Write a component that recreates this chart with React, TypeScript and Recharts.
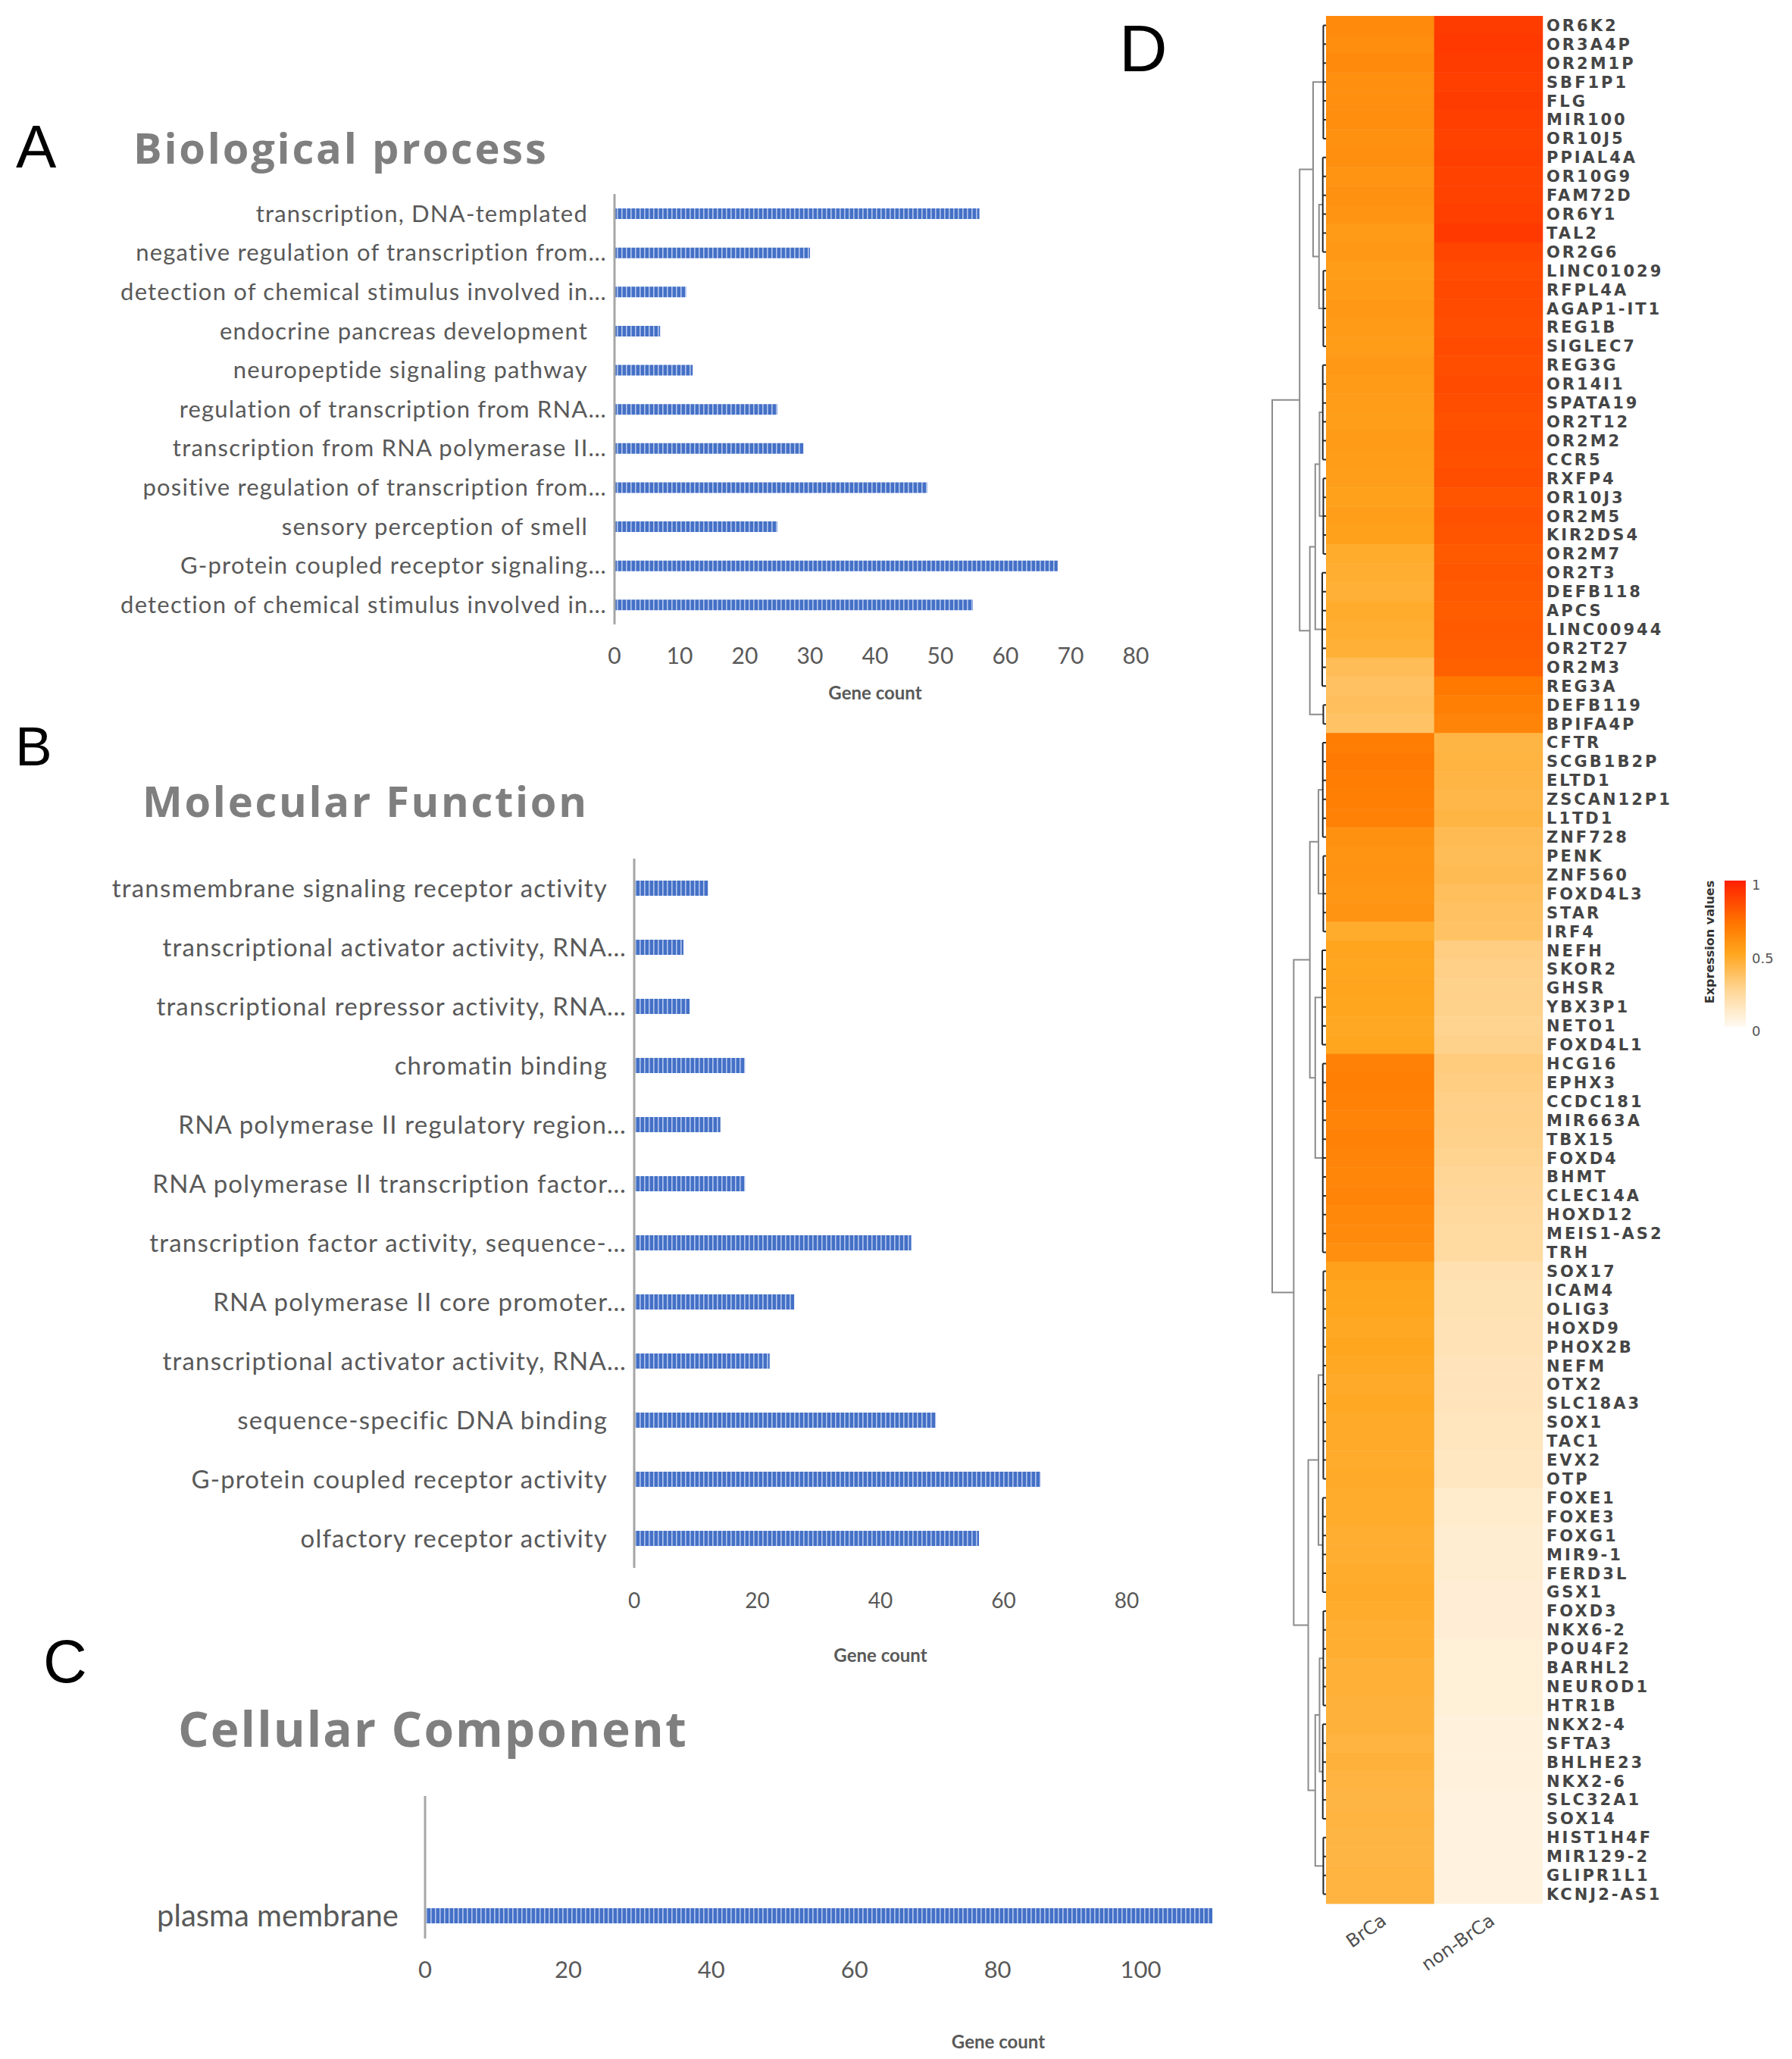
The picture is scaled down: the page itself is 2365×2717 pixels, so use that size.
import React from "react";
import { BarChart, Bar, XAxis, YAxis, Cell, LineChart, Line } from "recharts";

// ---- GO enrichment data (gene counts) ----
const bpTerms = [
  "transcription, DNA-templated",
  "negative regulation of transcription from…",
  "detection of chemical stimulus involved in…",
  "endocrine pancreas development",
  "neuropeptide signaling pathway",
  "regulation of transcription from RNA…",
  "transcription from RNA polymerase II…",
  "positive regulation of transcription from…",
  "sensory perception of smell",
  "G-protein coupled receptor signaling…",
  "detection of chemical stimulus involved in…",
];
const bpCounts = [56, 30, 11, 7, 12, 25, 29, 48, 25, 68, 55];
const bpTicks = [0, 10, 20, 30, 40, 50, 60, 70, 80];

const mfTerms = [
  "transmembrane signaling receptor activity",
  "transcriptional activator activity, RNA…",
  "transcriptional repressor activity, RNA…",
  "chromatin binding",
  "RNA polymerase II regulatory region…",
  "RNA polymerase II transcription factor…",
  "transcription factor activity, sequence-…",
  "RNA polymerase II core promoter…",
  "transcriptional activator activity, RNA…",
  "sequence-specific DNA binding",
  "G-protein coupled receptor activity",
  "olfactory receptor activity",
];
const mfCounts = [12, 8, 9, 18, 14, 18, 45, 26, 22, 49, 66, 56];
const mfTicks = [0, 20, 40, 60, 80];

const ccTerms = ["plasma membrane"];
const ccCounts = [110];
const ccTicks = [0, 20, 40, 60, 80, 100];

// ---- heatmap data ----
const sampleGroups = ["BrCa", "non-BrCa"];
const genes = [
  "OR6K2", "OR3A4P", "OR2M1P", "SBF1P1", "FLG", "MIR100", "OR10J5", "PPIAL4A", "OR10G9", "FAM72D",
  "OR6Y1", "TAL2", "OR2G6", "LINC01029", "RFPL4A", "AGAP1-IT1", "REG1B", "SIGLEC7", "REG3G", "OR14I1",
  "SPATA19", "OR2T12", "OR2M2", "CCR5", "RXFP4", "OR10J3", "OR2M5", "KIR2DS4", "OR2M7", "OR2T3",
  "DEFB118", "APCS", "LINC00944", "OR2T27", "OR2M3", "REG3A", "DEFB119", "BPIFA4P", "CFTR", "SCGB1B2P",
  "ELTD1", "ZSCAN12P1", "L1TD1", "ZNF728", "PENK", "ZNF560", "FOXD4L3", "STAR", "IRF4", "NEFH",
  "SKOR2", "GHSR", "YBX3P1", "NETO1", "FOXD4L1", "HCG16", "EPHX3", "CCDC181", "MIR663A", "TBX15",
  "FOXD4", "BHMT", "CLEC14A", "HOXD12", "MEIS1-AS2", "TRH", "SOX17", "ICAM4", "OLIG3", "HOXD9",
  "PHOX2B", "NEFM", "OTX2", "SLC18A3", "SOX1", "TAC1", "EVX2", "OTP", "FOXE1", "FOXE3",
  "FOXG1", "MIR9-1", "FERD3L", "GSX1", "FOXD3", "NKX6-2", "POU4F2", "BARHL2", "NEUROD1", "HTR1B",
  "NKX2-4", "SFTA3", "BHLHE23", "NKX2-6", "SLC32A1", "SOX14", "HIST1H4F", "MIR129-2", "GLIPR1L1", "KCNJ2-AS1",
];
const brcaExpr = [
  0.62, 0.61, 0.62, 0.6, 0.6, 0.61, 0.59, 0.6, 0.58, 0.59, 0.58,
  0.55, 0.56, 0.54, 0.55, 0.56, 0.55, 0.54, 0.56, 0.55, 0.54, 0.53, 0.55, 0.54, 0.53, 0.52, 0.53, 0.52,
  0.47, 0.46, 0.45, 0.47, 0.46, 0.45,
  0.38, 0.36, 0.37, 0.35,
  0.68, 0.69, 0.68, 0.67, 0.66,
  0.59, 0.58, 0.58, 0.57, 0.58,
  0.47,
  0.51, 0.5, 0.51, 0.5, 0.49, 0.5,
  0.66, 0.67, 0.66, 0.65, 0.66, 0.65, 0.64, 0.65, 0.63, 0.62, 0.6,
  0.52, 0.51, 0.5, 0.49, 0.5, 0.49, 0.48, 0.49, 0.48, 0.48, 0.47, 0.48,
  0.47, 0.47, 0.46, 0.46, 0.47, 0.48, 0.47, 0.46, 0.46, 0.45, 0.45, 0.44, 0.44, 0.43, 0.44, 0.43, 0.42, 0.43, 0.42, 0.42, 0.43, 0.43,
];
const nonBrcaExpr = [
  0.9, 0.91, 0.9, 0.89, 0.9, 0.89, 0.88, 0.89, 0.88, 0.88, 0.89, 0.91, 0.87,
  0.85, 0.86, 0.85, 0.84, 0.85, 0.84, 0.85, 0.84, 0.83, 0.84, 0.83, 0.84, 0.82, 0.83, 0.82,
  0.8, 0.81, 0.8, 0.79, 0.8, 0.79, 0.78,
  0.7, 0.67, 0.65,
  0.42, 0.43, 0.42, 0.41, 0.42,
  0.39, 0.38, 0.39, 0.37, 0.36,
  0.35,
  0.29, 0.28, 0.27, 0.27, 0.26, 0.27,
  0.3, 0.29, 0.28, 0.28, 0.27, 0.26, 0.25, 0.24, 0.23, 0.22, 0.22,
  0.18, 0.17, 0.17, 0.16, 0.16, 0.15, 0.15, 0.15, 0.14, 0.14, 0.13, 0.13,
  0.1, 0.1, 0.09, 0.09, 0.09, 0.08, 0.08, 0.08, 0.07, 0.07, 0.07, 0.07, 0.06, 0.06, 0.06, 0.06, 0.05, 0.05, 0.05, 0.05, 0.05, 0.05,
];
const legendTicks = [1, 0.5, 0];

// row clusters [firstRow, lastRow, height] and merges [nodeA, nodeB, height]
const dendroBlocks = [
  [0, 6, 0.05], [7, 12, 0.06], [13, 17, 0.05], [18, 23, 0.06], [24, 28, 0.05], [29, 35, 0.07],
  [36, 37, 0.05], [38, 43, 0.06], [44, 48, 0.05], [49, 54, 0.07], [55, 65, 0.06], [66, 77, 0.05],
  [78, 83, 0.06], [84, 89, 0.05], [90, 95, 0.06], [96, 99, 0.05],
];
const dendroMerges = [
  [1, 2, 0.13], [0, 16, 0.24], [3, 4, 0.12], [18, 5, 0.2], [19, 6, 0.3], [17, 20, 0.49],
  [7, 8, 0.14], [9, 10, 0.2], [22, 23, 0.3], [11, 12, 0.14], [13, 14, 0.12], [26, 15, 0.2],
  [25, 27, 0.33], [24, 28, 0.6], [21, 29, 1.0],
];

const FONT = "Lato, 'Liberation Sans', sans-serif";
const GENE_FONT = "'DejaVu Sans', Verdana, sans-serif";
const heatStops: [number, number[]][] = [
  [0, [255, 250, 242]],
  [0.25, [255, 214, 150]],
  [0.5, [255, 166, 30]],
  [0.7, [255, 120, 0]],
  [1, [255, 30, 0]],
];

function heatColor(v: number) {
  for (let i = 1; i < heatStops.length; i++) {
    const [o1, c1] = heatStops[i];
    const [o0, c0] = heatStops[i - 1];
    if (v <= o1) {
      const t = (v - o0) / (o1 - o0);
      const c = c0.map((x, k) => Math.round(x + (c1[k] - x) * t));
      return `rgb(${c[0]},${c[1]},${c[2]})`;
    }
  }
  const c = heatStops[heatStops.length - 1][1];
  return `rgb(${c[0]},${c[1]},${c[2]})`;
}

function buildDendrogram() {
  const nodes: { y: number; h: number }[] = [];
  const leaf: any[] = [];
  const tree: any[] = [];
  dendroBlocks.forEach(([s, e, hb]) => {
    for (let r = s; r <= e; r++) {
      leaf.push({ h: 0, r: r + 0.5 }, { h: hb, r: r + 0.5 }, { h: hb, r: null });
    }
    leaf.push({ h: hb, r: s + 0.5 }, { h: hb, r: e + 0.5 }, { h: hb, r: null });
    nodes.push({ y: (s + e + 1) / 2, h: hb });
  });
  dendroMerges.forEach(([a, b, hm]) => {
    const A = nodes[a];
    const B = nodes[b];
    tree.push({ h: A.h, r: A.y }, { h: hm, r: A.y }, { h: hm, r: B.y }, { h: B.h, r: B.y }, { h: hm, r: null });
    nodes.push({ y: (A.y + B.y) / 2, h: hm });
  });
  return { leaf, tree };
}

const TermTick = (props: any) => {
  const { x, y, payload, fontSize, spacing } = props;
  const label = String(payload.value);
  const gap = label.endsWith("…") ? 10 : 35;
  return (
    <text x={x - gap} y={y} dy="0.35em" textAnchor="end" fontSize={fontSize} fill="#595959"
      fontFamily={FONT} letterSpacing={spacing}>
      {label}
    </text>
  );
};

function GoBars(p: any) {
  const data = p.terms.map((name: string, i: number) => ({ name, count: p.counts[i] }));
  return (
    <div style={{ position: "absolute", left: 0, top: p.top }}>
      <BarChart width={p.width} height={p.height} data={data} layout="vertical"
        margin={{ top: 0, right: 31, bottom: 0, left: 0 }}>
        <defs>
          <pattern id={p.id} width={6} height={8} patternUnits="userSpaceOnUse">
            <rect width={6} height={8} fill="#4470c6" />
            <rect x={4} width={1.6} height={8} fill="#b3c6ec" />
          </pattern>
        </defs>
        <XAxis type="number" domain={[0, p.max]} ticks={p.ticks} allowDataOverflow axisLine={false}
          tickLine={false} tickSize={0} tickMargin={p.tickGap} height={p.xHeight} interval={0}
          tick={{ fontSize: p.tickFont, fill: "#595959", fontFamily: FONT }}
          label={{ value: "Gene count", position: "insideBottom", offset: p.titleOffset, dx: p.titleDx,
            fontSize: 24, fontWeight: 700, fill: "#595959", fontFamily: FONT }} />
        <YAxis type="category" dataKey="name" width={p.yWidth} interval={0} tickSize={0} tickMargin={0}
          tickLine={false} axisLine={{ stroke: "#a6a6a6", strokeWidth: 3 }} padding={{ top: p.padTop || 0, bottom: 0 }}
          tick={(t: any) => <TermTick {...t} fontSize={p.labelFont} spacing={p.labelSpacing} />} />
        <Bar dataKey="count" fill={`url(#${p.id})`} barSize={p.barSize} isAnimationActive={false} />
      </BarChart>
    </div>
  );
}

function Heatmap() {
  const rows = genes.map((gene, i) => ({ gene, brca: brcaExpr[i], non: nonBrcaExpr[i] }));
  return (
    <div style={{ position: "absolute", left: 1750, top: 21 }}>
      <BarChart width={615} height={2641} data={rows} layout="vertical" barCategoryGap={0}
        margin={{ top: 0, right: 0, bottom: 0, left: 0 }}>
        <XAxis type="number" domain={[0, 2]} ticks={[0.5, 1.5]} interval={0}
          tickFormatter={(v: number) => sampleGroups[Math.floor(v)]} axisLine={false} tickLine={false}
          tickSize={0} tickMargin={12} height={150}
          tick={{ fontSize: 24, fill: "#4d4d4d", fontFamily: GENE_FONT, angle: -35, textAnchor: "end" }} />
        <YAxis type="category" dataKey="gene" orientation="right" width={329} interval={0} tickSize={0}
          tickMargin={5} axisLine={false} tickLine={false}
          tick={{ fontSize: 21, fill: "#454545", fontFamily: GENE_FONT, fontWeight: 700, letterSpacing: 3 }} />
        <Bar dataKey={(r: any) => (r.brca == null ? 0 : 1)} stackId="hm" isAnimationActive={false}>
          {rows.map((r, i) => (
            <Cell key={i} fill={heatColor(r.brca)} stroke={heatColor(r.brca)} strokeWidth={0.6} />
          ))}
        </Bar>
        <Bar dataKey={(r: any) => (r.non == null ? 0 : 1)} stackId="hm" isAnimationActive={false}>
          {rows.map((r, i) => (
            <Cell key={i} fill={heatColor(r.non)} stroke={heatColor(r.non)} strokeWidth={0.6} />
          ))}
        </Bar>
      </BarChart>
    </div>
  );
}

function Dendrogram() {
  const { leaf, tree } = buildDendrogram();
  return (
    <div style={{ position: "absolute", left: 1660, top: 21 }}>
      <LineChart width={90} height={2491} margin={{ top: 0, right: 0, bottom: 0, left: 0 }}>
        <XAxis type="number" dataKey="h" domain={[0, 90 / 71]} reversed hide allowDataOverflow />
        <YAxis type="number" domain={[0, 100]} reversed hide allowDataOverflow />
        <Line data={tree} dataKey="r" stroke="#8c8c8c" strokeWidth={2} dot={false} isAnimationActive={false} />
        <Line data={leaf} dataKey="r" stroke="#262626" strokeWidth={2} dot={false} isAnimationActive={false} />
      </LineChart>
    </div>
  );
}

function ColorLegend() {
  const top = 12;
  const h = 193;
  return (
    <svg style={{ position: "absolute", left: 2240, top: 1150 }} width={125} height={235}>
      <defs>
        <linearGradient id="exprGrad" x1="0" y1="1" x2="0" y2="0">
          {heatStops.map(([o, c]) => (
            <stop key={o} offset={o} stopColor={`rgb(${c[0]},${c[1]},${c[2]})`} />
          ))}
        </linearGradient>
      </defs>
      <rect x={36} y={top} width={28} height={h} fill="url(#exprGrad)" />
      <text transform="translate(22,93) rotate(-90)" textAnchor="middle" fontSize={16} fontWeight={700}
        fontFamily={GENE_FONT} fill="#333">Expression values</text>
      {legendTicks.map((v) => (
        <text key={v} x={72} y={top + (1 - v) * h + 6} dy="0.35em" fontSize={18} fontFamily={GENE_FONT} fill="#555">
          {v}
        </text>
      ))}
    </svg>
  );
}

const letter = (ch: string, left: number, top: number, size: number) => (
  <div style={{ position: "absolute", left, top, fontSize: size, lineHeight: 1, fontFamily: "'Liberation Sans', Arial, sans-serif", color: "#000" }}>{ch}</div>
);
const title = (txt: string, left: number, top: number, size: number, ls: number) => (
  <div style={{ position: "absolute", left, top, fontSize: size, lineHeight: 1, fontWeight: 700, letterSpacing: ls,
    fontFamily: "'Open Sans', sans-serif", color: "#7f7f7f", whiteSpace: "nowrap" }}>{txt}</div>
);

export default function App() {
  return (
    <div style={{ position: "absolute", left: 0, top: 0, width: 2365, height: 2717, background: "#fff", overflow: "hidden" }}>
      {letter("A", 21, 154, 80)}
      {letter("B", 20, 948, 73)}
      {letter("C", 57, 2153, 80)}
      {letter("D", 1477, 20, 88)}
      {title("Biological process", 176, 166, 56, 2.8)}
      {title("Molecular Function", 188, 1028, 56, 2.7)}
      {title("Cellular Component", 235, 2249, 64, 2)}

      <GoBars id="stripeA" top={256} width={1530} height={678} terms={bpTerms} counts={bpCounts} ticks={bpTicks}
        max={80} yWidth={811} barSize={14} labelFont={31} labelSpacing={1.2} tickFont={30} tickGap={31} xHeight={110}
        titleOffset={11} titleDx={0} />
      <GoBars id="stripeB" top={1133} width={1518} height={1066} terms={mfTerms} counts={mfCounts} ticks={mfTicks}
        max={80} yWidth={837} barSize={20} labelFont={33} labelSpacing={1.2} tickFont={28} tickGap={33} xHeight={130}
        titleOffset={6} titleDx={0} />
      <GoBars id="stripeC" top={2370} width={1631} height={338} terms={ccTerms} counts={ccCounts} ticks={ccTicks}
        max={110} yWidth={561} barSize={20} labelFont={40} labelSpacing={0} tickFont={31} tickGap={30} xHeight={150}
        titleOffset={5} titleDx={237} padTop={128} />

      <Dendrogram />
      <Heatmap />
      <ColorLegend />
    </div>
  );
}
